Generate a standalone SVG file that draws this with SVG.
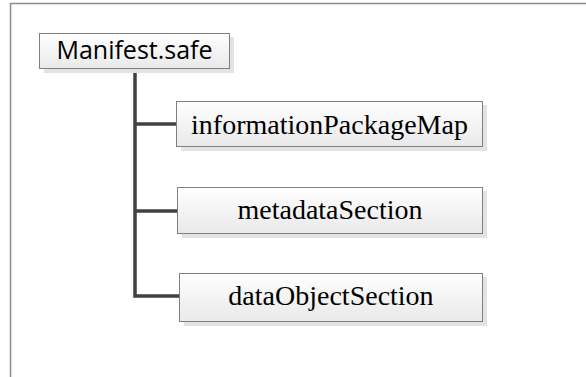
<svg xmlns="http://www.w3.org/2000/svg" width="586" height="377" viewBox="0 0 586 377">
<defs>
<linearGradient id="g" x1="0" y1="0" x2="0" y2="1">
<stop offset="0" stop-color="#ffffff"/>
<stop offset="1" stop-color="#e9e9e9"/>
</linearGradient>
<style>
.shadow{fill:#e3e3e3}
.box{fill:url(#g);stroke:#7f7f7f;stroke-width:1}
.serif{font-family:"Liberation Serif","Times New Roman",serif;font-size:28px;fill:#000;text-anchor:middle}
.sans{font-family:"Open Sans","Liberation Sans",sans-serif;font-size:25px;fill:#000;text-anchor:middle}
.conn{fill:none;stroke:#404040;stroke-width:3.5}
</style>
</defs>
<rect width="586" height="377" fill="#ffffff"/>
<path d="M10.5 377 V3.5 H586" fill="none" stroke="#8c8c8c" stroke-width="1.5"/>
<g id="connectors">
<path class="conn" d="M135 68 V296 H179"/>
<path class="conn" d="M135 124 H176"/>
<path class="conn" d="M135 211 H177"/>
</g>
<g id="manifest">
<rect class="shadow" x="44" y="37" width="190" height="36"/>
<rect class="box" x="39.5" y="33.5" width="190" height="35"/>
<text class="sans" x="134.5" y="59">Manifest.safe</text>
</g>
<g id="informationPackageMap">
<rect class="shadow" x="181" y="105" width="306" height="46"/>
<rect class="box" x="176.5" y="101.5" width="306" height="45"/>
<text class="serif" x="329.5" y="134">informationPackageMap</text>
</g>
<g id="metadataSection">
<rect class="shadow" x="182" y="191" width="305" height="47"/>
<rect class="box" x="177.5" y="187.5" width="305" height="46"/>
<text class="serif" x="330" y="219">metadataSection</text>
</g>
<g id="dataObjectSection">
<rect class="shadow" x="184" y="277" width="303" height="49"/>
<rect class="box" x="179.5" y="273.5" width="303" height="48"/>
<text class="serif" x="331" y="305">dataObjectSection</text>
</g>
</svg>
